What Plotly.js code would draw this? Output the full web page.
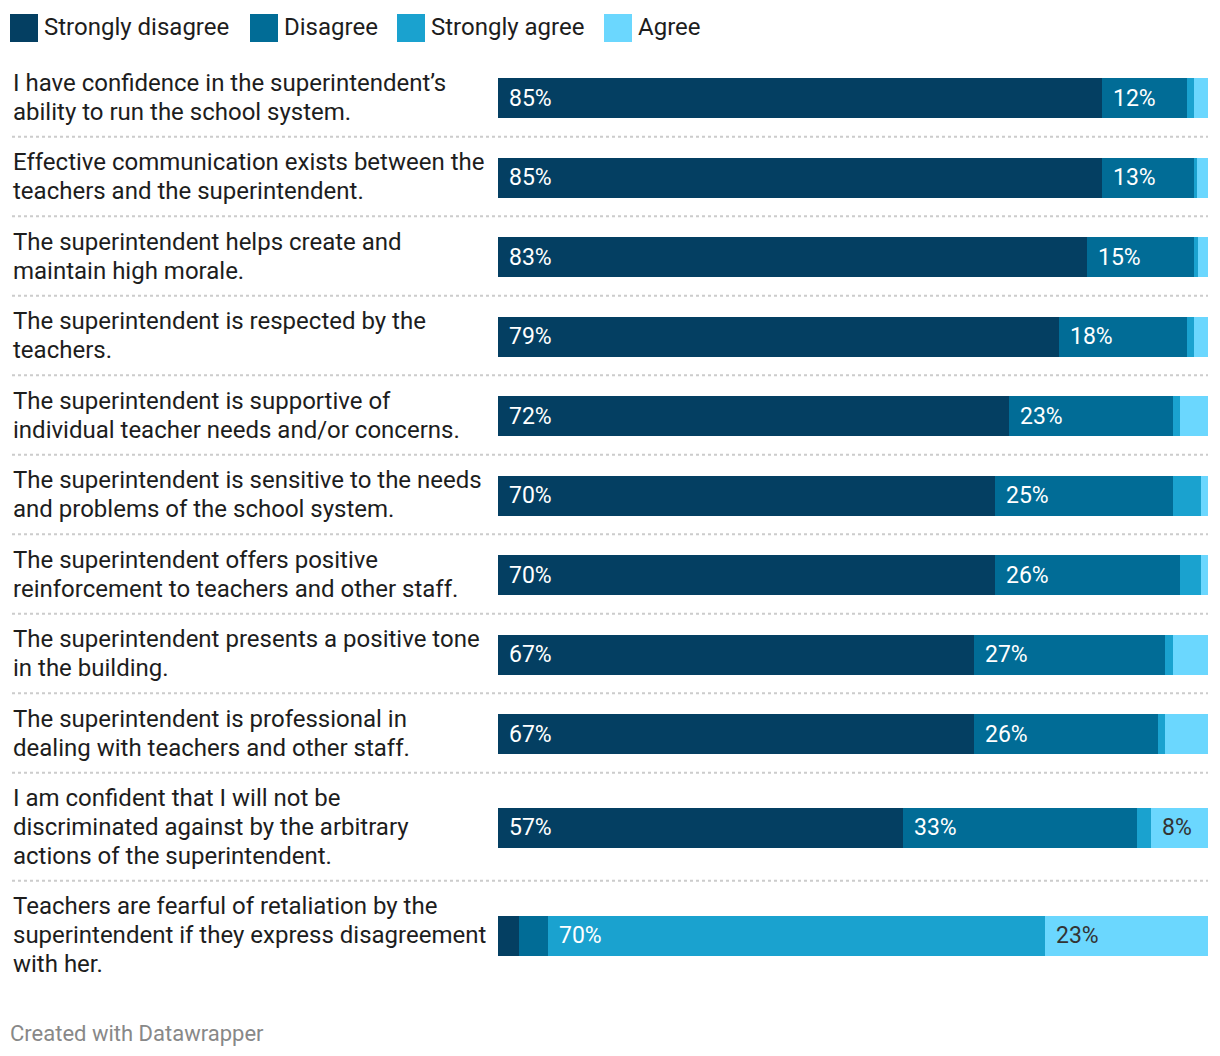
<!DOCTYPE html>
<html>
<head>
<meta charset="utf-8">
<script src="https://cdn.plot.ly/plotly-3.0.1.min.js"></script>
<style>
html,body{margin:0;padding:0;background:#fff;}
#chart{width:1220px;height:1056px;}
</style>
</head>
<body>
<div id="chart"></div>
<script>
// ---- data ----
const questions = [
  "I have confidence in the superintendent’s<br>ability to run the school system.",
  "Effective communication exists between the<br>teachers and the superintendent.",
  "The superintendent helps create and<br>maintain high morale.",
  "The superintendent is respected by the<br>teachers.",
  "The superintendent is supportive of<br>individual teacher needs and/or concerns.",
  "The superintendent is sensitive to the needs<br>and problems of the school system.",
  "The superintendent offers positive<br>reinforcement to teachers and other staff.",
  "The superintendent presents a positive tone<br>in the building.",
  "The superintendent is professional in<br>dealing with teachers and other staff.",
  "I am confident that I will not be<br>discriminated against by the arbitrary<br>actions of the superintendent.",
  "Teachers are fearful of retaliation by the<br>superintendent if they express disagreement<br>with her."
];
const seriesNames = ["Strongly disagree", "Disagree", "Strongly agree", "Agree"];
const stronglyDisagree = [85, 85, 83, 79, 72, 70, 70, 67, 67, 57, 3];
const disagree         = [12, 13, 15, 18, 23, 25, 26, 27, 26, 33, 4];
const stronglyAgree    = [1, 0.5, 0.6, 1, 1, 4, 3, 1, 1, 2, 70];
const agree            = [2, 1.5, 1.4, 2, 4, 1, 1, 5, 6, 8, 23];

// ---- styles ----
const colors = ["#043f62", "#016c96", "#1aa2cf", "#6bd7fe"];
const labelColors = ["#ffffff", "#ffffff", "#ffffff", "#333333"];
const FONT = "Roboto, 'Noto Sans', sans-serif";
const W = 1220, H = 1056, ML = 498, MR = 12;
const PW = W - ML - MR;
const px2x = p => (p - ML) / PW;

const allSeries = [stronglyDisagree, disagree, stronglyAgree, agree];

// row layout computed from number of label lines
const lineH = 29;
const rowCenters = [];
const rowBounds = [];
let rowTop = 58.25;
questions.forEach(q => {
  const n = q.split("<br>").length;
  const h = 22.5 + 28.5 * n;
  rowCenters.push(rowTop + h / 2);
  rowBounds.push(rowTop + h);
  rowTop += h;
});

const traces = allSeries.map((vals, i) => ({
  type: "bar",
  orientation: "h",
  name: seriesNames[i],
  x: vals,
  y: rowCenters,
  width: 40,
  marker: {color: colors[i], line: {width: 0}},
  hoverinfo: "skip",
  showlegend: false
}));

const annotations = [];
const shapes = [];

questions.forEach((q, r) => {
  let cum = 0;
  allSeries.forEach((vals, i) => {
    const v = vals[r];
    if (v >= 7) {
      annotations.push({
        x: cum, y: rowCenters[r], xref: "x", yref: "y",
        text: Math.round(v) + "%", showarrow: false,
        xanchor: "left", yanchor: "middle", xshift: 9,
        font: {family: FONT, size: 23, color: labelColors[i]}
      });
    }
    cum += v;
  });
  const lines = q.split("<br>");
  lines.forEach((ln, k) => {
    annotations.push({
      x: px2x(11), y: rowCenters[r] + (k - (lines.length - 1) / 2) * lineH - 1,
      xref: "paper", yref: "y", text: ln, showarrow: false,
      xanchor: "left", yanchor: "middle", align: "left",
      font: {family: FONT, size: 24, color: "#1d1d1d"}
    });
  });
  if (r < questions.length - 1) {
    shapes.push({
      type: "line", xref: "paper", yref: "y",
      x0: px2x(12), x1: px2x(1208), y0: rowBounds[r] - 1, y1: rowBounds[r] - 1,
      line: {color: "#cccccc", width: 2, dash: "dot"}
    });
  }
});

const legendX = [10, 250, 397, 604];
seriesNames.forEach((nm, i) => {
  shapes.push({
    type: "rect", xref: "paper", yref: "y",
    x0: px2x(legendX[i]), x1: px2x(legendX[i] + 28), y0: 14, y1: 42,
    fillcolor: colors[i], line: {width: 0}
  });
  annotations.push({
    x: px2x(legendX[i] + 32), y: 27, xref: "paper", yref: "y",
    text: nm, showarrow: false, xanchor: "left", yanchor: "middle",
    font: {family: FONT, size: 24, color: "#1d1d1d"}
  });
});

annotations.push({
  x: px2x(8), y: 1033, xref: "paper", yref: "y",
  text: "Created with Datawrapper", showarrow: false,
  xanchor: "left", yanchor: "middle",
  font: {family: FONT, size: 22, color: "#888888"}
});

const layout = {
  width: W, height: H,
  margin: {l: ML, r: MR, t: 0, b: 0, pad: 0},
  barmode: "stack",
  bargap: 0,
  paper_bgcolor: "#ffffff",
  plot_bgcolor: "#ffffff",
  xaxis: {range: [0, 100], visible: false, fixedrange: true},
  yaxis: {range: [H, 0], visible: false, fixedrange: true},
  showlegend: false,
  annotations: annotations,
  shapes: shapes,
  font: {family: FONT}
};

Plotly.newPlot("chart", traces, layout, {displayModeBar: false, staticPlot: true});
</script>
</body>
</html>
